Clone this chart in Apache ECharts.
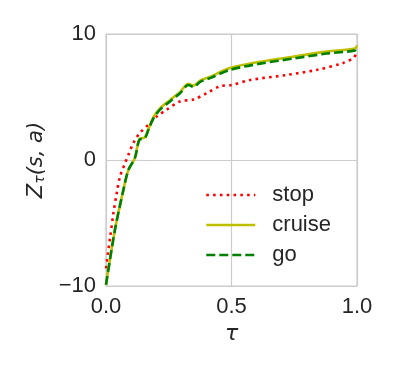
<!DOCTYPE html>
<html>
<head>
<meta charset="utf-8">
<script src="https://cdn.jsdelivr.net/npm/echarts@6/dist/echarts.min.js"></script>
<style>
  html, body { margin: 0; padding: 0; background: #fff; }
  #chart { width: 399px; height: 372px; }
</style>
</head>
<body>
<div id="chart"></div>
<script>
// values
const stopTau = [0, 0.016, 0.029, 0.043, 0.056, 0.076, 0.089, 0.109, 0.135, 0.169, 0.202, 0.242, 0.295, 0.348, 0.401, 0.454, 0.5, 0.574, 0.72, 0.84, 0.945, 0.985, 1.0];
const stopVal = [-8.6, -6.2, -4.3, -2.6, -1.3, -0.24, 0.4, 1.35, 2.15, 2.8, 3.45, 4.0, 4.65, 4.8, 5.3, 5.85, 5.95, 6.35, 6.75, 7.15, 7.7, 8.1, 8.5];

const goTau = [0, 0.036, 0.069, 0.089, 0.115, 0.133, 0.155, 0.169, 0.189, 0.215, 0.255, 0.295, 0.328, 0.348, 0.375, 0.414, 0.494, 0.614, 0.746, 0.879, 0.992, 1.0];
const goVal = [-9.9, -5.5, -2.4, -0.8, 0.15, 1.6, 1.75, 2.4, 3.3, 4.0, 4.65, 5.3, 5.95, 5.8, 6.2, 6.5, 7.15, 7.65, 8.05, 8.45, 8.7, 9.0];
const cruiseVal = [-9.9, -5.5, -2.4, -0.8, 0.15, 1.65, 1.8, 2.45, 3.4, 4.1, 4.75, 5.4, 6.05, 5.9, 6.3, 6.6, 7.3, 7.8, 8.2, 8.6, 8.85, 9.1];

const seriesNames = ['stop', 'cruise', 'go'];
const xTicks = ['0.0', '0.5', '1.0'];

const pairs = (xs, ys) => xs.map((x, i) => [x, ys[i]]);

const chart = echarts.init(document.getElementById('chart'));
const font = 'Liberation Sans, Arial, sans-serif';
const mathFont = 'DejaVu Sans, sans-serif';

const option = {
  animation: false,
  textStyle: { fontFamily: font },
  grid: { left: 106, right: 42, top: 34, bottom: 86, show: true, borderColor: '#cccccc', borderWidth: 1.2 },
  legend: {
    orient: 'vertical',
    left: 200,
    top: 179,
    itemWidth: 49,
    itemHeight: 20,
    itemGap: 8,
    itemStyle: { opacity: 0 },
    lineStyle: { width: 2.6 },
    textStyle: { fontSize: 22, color: '#262626', fontFamily: font, padding: [0, 0, 0, 12] },
    data: seriesNames
  },
  xAxis: {
    type: 'value',
    min: 0, max: 1, interval: 0.5,
    name: 'τ',
    nameLocation: 'middle',
    nameGap: 33,
    nameTextStyle: { fontSize: 22, fontStyle: 'italic', color: '#262626', fontFamily: mathFont },
    axisLine: { show: false },
    axisTick: { show: false },
    splitLine: { lineStyle: { color: '#cccccc', width: 1.2 } },
    axisLabel: { fontSize: 22, color: '#262626', margin: 10, formatter: v => xTicks[Math.round(v * 2)] }
  },
  yAxis: {
    type: 'value',
    min: -10, max: 10, interval: 10,
    name: '{i|Z}{s|τ}{i|(s, a)}',
    nameLocation: 'middle',
    nameRotate: 90,
    nameGap: 54,
    nameTextStyle: {
      color: '#262626',
      rich: {
        i: { fontSize: 21, fontStyle: 'italic', fontFamily: mathFont, color: '#262626' },
        s: { fontSize: 14, fontStyle: 'italic', fontFamily: mathFont, color: '#262626', verticalAlign: 'bottom', padding: [8, 0, 0, 0] }
      }
    },
    axisLine: { show: false },
    axisTick: { show: false },
    splitLine: { lineStyle: { color: '#cccccc', width: 1.2 } },
    axisLabel: { fontSize: 22, color: '#262626', margin: 10, formatter: v => (v < 0 ? '\u2212' + Math.abs(v) : String(v)) }
  },
  series: [
    {
      name: 'stop', type: 'line', showSymbol: false, symbol: 'none', smooth: 0.3,
      z: 2,
      data: pairs(stopTau, stopVal),
      itemStyle: { color: '#ff0000' },
      lineStyle: { color: '#ff0000', width: 2.6, type: [2.6, 4.2] }
    },
    {
      name: 'cruise', type: 'line', showSymbol: false, symbol: 'none', smooth: 0.3,
      z: 3,
      data: pairs(goTau, cruiseVal),
      itemStyle: { color: '#bfbf00' },
      lineStyle: { color: '#bfbf00', width: 2.6, type: 'solid' }
    },
    {
      name: 'go', type: 'line', showSymbol: false, symbol: 'none', smooth: 0.3,
      z: 4,
      data: pairs(goTau, goVal),
      itemStyle: { color: '#008000' },
      lineStyle: { color: '#008000', width: 2.6, type: [9, 4] }
    }
  ]
};

chart.setOption(option);
</script>
</body>
</html>
